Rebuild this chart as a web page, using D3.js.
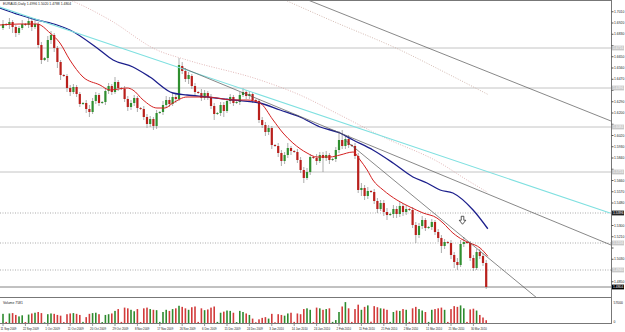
<!DOCTYPE html>
<html lang="en">
<head>
<meta charset="UTF-8">
<title>EURAUD Daily</title>
<script src="https://d3js.org/d3.v7.min.js"></script>
<style>
  body { margin: 0; background: #fff; }
  text { font-family: "Liberation Sans", Arial, sans-serif; }
</style>
</head>
<body>
<svg id="chart" width="625" height="332"></svg>
<script>
// daily bars, 11 Sep 2009 .. 30 Mar 2010 (Sunday bars included)
const opens = [
  1.6876, 1.6908, 1.6900, 1.6924, 1.6884, 1.6836, 1.6876, 1.6908, 1.6900, 1.6932,
  1.6884, 1.6908, 1.6740, 1.6620, 1.6636, 1.6780, 1.6820, 1.6716, 1.6604, 1.6500,
  1.6492, 1.6396, 1.6364, 1.6404, 1.6348, 1.6268, 1.6276, 1.6228, 1.6204, 1.6292,
  1.6340, 1.6276, 1.6284, 1.6372, 1.6412, 1.6364, 1.6444, 1.6396, 1.6388, 1.6308,
  1.6244, 1.6276, 1.6316, 1.6236, 1.6228, 1.6164, 1.6108, 1.6148, 1.6092, 1.6196,
  1.6204, 1.6260, 1.6300, 1.6268, 1.6324, 1.6308, 1.6572, 1.6532, 1.6468, 1.6492,
  1.6412, 1.6364, 1.6356, 1.6316, 1.6356, 1.6324, 1.6252, 1.6188, 1.6196, 1.6260,
  1.6212, 1.6292, 1.6324, 1.6276, 1.6284, 1.6340, 1.6364, 1.6332, 1.6348, 1.6300,
  1.6292, 1.6140, 1.6100, 1.6044, 1.6076, 1.5940, 1.5932, 1.5876, 1.5812, 1.5860,
  1.5916, 1.5892, 1.5884, 1.5820, 1.5740, 1.5676, 1.5724, 1.5844, 1.5836, 1.5812,
  1.5860, 1.5836, 1.5860, 1.5820, 1.5828, 1.5900, 1.5980, 1.5932, 1.5988, 1.5940,
  1.5932, 1.5852, 1.5580, 1.5596, 1.5532, 1.5572, 1.5564, 1.5492, 1.5428, 1.5476,
  1.5404, 1.5380, 1.5388, 1.5428, 1.5388, 1.5452, 1.5404, 1.5428, 1.5420, 1.5300,
  1.5220, 1.5292, 1.5340, 1.5276, 1.5284, 1.5324, 1.5244, 1.5196, 1.5132, 1.5164,
  1.5156, 1.5060, 1.5004, 1.4980, 1.5148, 1.5164, 1.5156, 1.5036, 1.4956, 1.5084,
  1.5052, 1.4996
];
const highs = [
  1.6940, 1.6916, 1.6956, 1.6940, 1.6900, 1.6892, 1.6940, 1.6916, 1.6964, 1.6948,
  1.6940, 1.6924, 1.6764, 1.6644, 1.6812, 1.6852, 1.6836, 1.6732, 1.6620, 1.6508,
  1.6508, 1.6420, 1.6428, 1.6420, 1.6364, 1.6284, 1.6300, 1.6260, 1.6316, 1.6364,
  1.6356, 1.6292, 1.6396, 1.6436, 1.6428, 1.6484, 1.6460, 1.6404, 1.6412, 1.6332,
  1.6300, 1.6340, 1.6332, 1.6244, 1.6252, 1.6188, 1.6172, 1.6164, 1.6220, 1.6212,
  1.6292, 1.6332, 1.6324, 1.6356, 1.6348, 1.6636, 1.6604, 1.6556, 1.6524, 1.6508,
  1.6436, 1.6372, 1.6388, 1.6380, 1.6372, 1.6348, 1.6276, 1.6204, 1.6284, 1.6284,
  1.6316, 1.6348, 1.6340, 1.6292, 1.6364, 1.6396, 1.6380, 1.6372, 1.6364, 1.6308,
  1.6308, 1.6164, 1.6124, 1.6100, 1.6092, 1.5948, 1.5956, 1.5900, 1.5884, 1.5956,
  1.5932, 1.5900, 1.5908, 1.5844, 1.5764, 1.5756, 1.5868, 1.5852, 1.5868, 1.5884,
  1.5884, 1.5892, 1.5876, 1.5836, 1.5924, 1.6052, 1.6060, 1.6012, 1.6020, 1.5948,
  1.5956, 1.5876, 1.5636, 1.5620, 1.5604, 1.5580, 1.5588, 1.5516, 1.5500, 1.5500,
  1.5436, 1.5396, 1.5460, 1.5452, 1.5484, 1.5476, 1.5460, 1.5436, 1.5444, 1.5324,
  1.5316, 1.5372, 1.5356, 1.5292, 1.5348, 1.5340, 1.5268, 1.5220, 1.5188, 1.5172,
  1.5180, 1.5084, 1.5036, 1.5180, 1.5204, 1.5172, 1.5172, 1.5060, 1.5108, 1.5108,
  1.5076, 1.5020
];
const lows = [
  1.6860, 1.6892, 1.6868, 1.6836, 1.6804, 1.6820, 1.6860, 1.6892, 1.6876, 1.6852,
  1.6868, 1.6716, 1.6588, 1.6612, 1.6604, 1.6748, 1.6684, 1.6556, 1.6460, 1.6484,
  1.6364, 1.6332, 1.6348, 1.6324, 1.6244, 1.6260, 1.6196, 1.6164, 1.6188, 1.6268,
  1.6252, 1.6268, 1.6260, 1.6348, 1.6340, 1.6348, 1.6372, 1.6380, 1.6284, 1.6212,
  1.6220, 1.6252, 1.6204, 1.6220, 1.6140, 1.6076, 1.6084, 1.6060, 1.6068, 1.6188,
  1.6180, 1.6236, 1.6244, 1.6252, 1.6276, 1.6292, 1.6508, 1.6444, 1.6428, 1.6388,
  1.6340, 1.6348, 1.6292, 1.6300, 1.6300, 1.6228, 1.6140, 1.6180, 1.6172, 1.6164,
  1.6196, 1.6268, 1.6252, 1.6268, 1.6260, 1.6324, 1.6308, 1.6308, 1.6276, 1.6284,
  1.6116, 1.6076, 1.6012, 1.6020, 1.5908, 1.5924, 1.5844, 1.5772, 1.5788, 1.5836,
  1.5860, 1.5876, 1.5796, 1.5716, 1.5636, 1.5660, 1.5700, 1.5828, 1.5780, 1.5796,
  1.5724, 1.5812, 1.5788, 1.5812, 1.5804, 1.5876, 1.5908, 1.5908, 1.5916, 1.5924,
  1.5828, 1.5556, 1.5532, 1.5500, 1.5508, 1.5556, 1.5468, 1.5396, 1.5412, 1.5372,
  1.5340, 1.5372, 1.5356, 1.5356, 1.5364, 1.5372, 1.5380, 1.5412, 1.5276, 1.5156,
  1.5196, 1.5268, 1.5252, 1.5268, 1.5260, 1.5220, 1.5164, 1.5076, 1.5108, 1.5148,
  1.5028, 1.4956, 1.4940, 1.4964, 1.5124, 1.5148, 1.5012, 1.4932, 1.4940, 1.5028,
  1.4972, 1.4788
];
const closes = [
  1.6908, 1.6900, 1.6924, 1.6884, 1.6836, 1.6876, 1.6908, 1.6900, 1.6932, 1.6884,
  1.6908, 1.6740, 1.6620, 1.6636, 1.6780, 1.6820, 1.6716, 1.6604, 1.6500, 1.6492,
  1.6396, 1.6364, 1.6404, 1.6348, 1.6268, 1.6276, 1.6228, 1.6204, 1.6292, 1.6340,
  1.6276, 1.6284, 1.6372, 1.6412, 1.6364, 1.6444, 1.6396, 1.6388, 1.6308, 1.6244,
  1.6276, 1.6316, 1.6236, 1.6228, 1.6164, 1.6108, 1.6148, 1.6092, 1.6196, 1.6204,
  1.6260, 1.6300, 1.6268, 1.6324, 1.6308, 1.6580, 1.6532, 1.6468, 1.6500, 1.6412,
  1.6364, 1.6356, 1.6316, 1.6356, 1.6324, 1.6252, 1.6188, 1.6196, 1.6260, 1.6212,
  1.6292, 1.6324, 1.6276, 1.6284, 1.6340, 1.6364, 1.6332, 1.6348, 1.6300, 1.6292,
  1.6140, 1.6100, 1.6044, 1.6076, 1.5940, 1.5932, 1.5876, 1.5812, 1.5860, 1.5916,
  1.5892, 1.5884, 1.5820, 1.5740, 1.5676, 1.5724, 1.5844, 1.5836, 1.5812, 1.5860,
  1.5836, 1.5860, 1.5820, 1.5828, 1.5900, 1.5980, 1.5932, 1.5988, 1.5940, 1.5932,
  1.5852, 1.5580, 1.5596, 1.5532, 1.5572, 1.5564, 1.5492, 1.5428, 1.5476, 1.5404,
  1.5380, 1.5388, 1.5428, 1.5388, 1.5452, 1.5404, 1.5428, 1.5420, 1.5300, 1.5220,
  1.5292, 1.5340, 1.5276, 1.5284, 1.5324, 1.5244, 1.5196, 1.5132, 1.5164, 1.5156,
  1.5060, 1.5004, 1.4980, 1.5148, 1.5164, 1.5156, 1.5036, 1.4956, 1.5084, 1.5052,
  1.4996, 1.4804
];
const volumes = [
  25000, 3000, 26000, 27000, 22000, 18000, 21000, 2500, 23000, 26000,
  28000, 30000, 27000, 2000, 24000, 26000, 25000, 22000, 20000, 2500,
  24000, 26000, 27000, 25000, 22000, 3000, 16000, 25000, 27000, 28000,
  24000, 2500, 22000, 24000, 26000, 33000, 38000, 3000, 42000, 40000,
  36000, 32000, 38000, 2500, 40000, 42000, 38000, 36000, 35000, 3000,
  30000, 36000, 33000, 38000, 40000, 47000, 44000, 40000, 36000, 43000,
  45000, 3000, 40000, 35000, 37000, 42000, 45000, 3000, 28000, 31000,
  34000, 33000, 28000, 2500, 33000, 30000, 26000, 22000, 12000, 2000,
  10000, 14000, 16000, 12000, 25000, 2000, 24000, 22000, 20000, 26000,
  28000, 3000, 26000, 24000, 38000, 40000, 36000, 2500, 42000, 40000,
  36000, 38000, 40000, 3000, 8000, 30000, 45000, 57000, 40000, 3000,
  38000, 50000, 36000, 44000, 48000, 3500, 46000, 43000, 40000, 39000,
  36000, 3000, 30000, 34000, 33000, 38000, 36000, 3000, 40000, 44000,
  38000, 34000, 30000, 3000, 36000, 38000, 40000, 42000, 36000, 3000,
  38000, 46000, 44000, 48000, 40000, 3000, 37000, 39000, 34000, 22000,
  15000, 7581
];

// date labels every 7 bars
const dateLabels = ["11 Sep 2009", "22 Sep 2009", "1 Oct 2009", "11 Oct 2009", "20 Oct 2009",
  "29 Oct 2009", "8 Nov 2009", "17 Nov 2009", "26 Nov 2009", "6 Dec 2009", "15 Dec 2009",
  "24 Dec 2009", "3 Jan 2010", "14 Jan 2010", "24 Jan 2010", "2 Feb 2010", "11 Feb 2010",
  "21 Feb 2010", "2 Mar 2010", "11 Mar 2010", "21 Mar 2010", "30 Mar 2010"];
const priceTicks = [1.7010, 1.6920, 1.6830, 1.6740, 1.6650, 1.6560, 1.6470, 1.6380, 1.6290,
  1.6200, 1.6110, 1.6020, 1.5930, 1.5840, 1.5750, 1.5660, 1.5570, 1.5480, 1.5390, 1.5300,
  1.5210, 1.5120, 1.5030, 1.4940, 1.4850];

// moving averages [bar index, price]
const maFast = [[-1, 1.6900], [5.3, 1.6908], [10.6, 1.6908], [14.7, 1.6836], [17.8, 1.6756],
  [20.9, 1.6620], [25, 1.6484], [30.3, 1.6420], [33.4, 1.6380], [38.8, 1.6396], [40.6, 1.6380],
  [43.8, 1.6300], [48.1, 1.6236], [50.6, 1.6236], [53.1, 1.6276], [57.5, 1.6324], [63.8, 1.6324],
  [71.9, 1.6300], [76.3, 1.6300], [80.3, 1.6276], [84.4, 1.6140], [87.5, 1.6036], [90.6, 1.5956],
  [95, 1.5876], [98.1, 1.5844], [102.2, 1.5844], [105.3, 1.5860], [109.4, 1.5884], [111.6, 1.5820],
  [113.8, 1.5740], [115.6, 1.5660], [118.8, 1.5580], [123.1, 1.5500], [127.2, 1.5444],
  [131.3, 1.5396], [135.6, 1.5356], [137.5, 1.5316], [140.6, 1.5236], [143.8, 1.5180],
  [145.9, 1.5156], [149.1, 1.5116], [151.5, 1.5050]];
const maSlow = [[-1, 1.7036], [5.3, 1.6980], [10.6, 1.6940], [16.9, 1.6900], [20.9, 1.6860],
  [29.4, 1.6716], [34.4, 1.6620], [40.6, 1.6564], [45.9, 1.6484], [53.1, 1.6356], [57.5, 1.6340],
  [63.8, 1.6324], [71.9, 1.6300], [80.3, 1.6276], [86.6, 1.6220], [92.8, 1.6164], [99.1, 1.6084],
  [105.3, 1.6036], [109.4, 1.5980], [115.6, 1.5900], [121.9, 1.5796], [128.1, 1.5684],
  [132.5, 1.5636], [136.6, 1.5580], [140.6, 1.5556], [146.9, 1.5420], [151.5, 1.5270]];
const maLong = [[20.9, 1.7100], [23.1, 1.7076], [33.4, 1.6940], [48.1, 1.6700], [57.5, 1.6620],
  [80.3, 1.6460], [92.8, 1.6340], [105.3, 1.6180], [118.8, 1.6004], [136.6, 1.5796],
  [145, 1.5660], [151.5, 1.5560]];
const maLongUpper = [[88.1, 1.7100], [102.2, 1.6940], [124.1, 1.6700], [139.7, 1.6500], [151.5, 1.6345]];

// drawn objects
const cyanLine = [[-1, 1.7044], [189.7, 1.5396]];
const trendLines = [
  [[95.3, 1.7100], [190, 1.6132]],
  [[56.25, 1.6556], [190, 1.5140]],
  [[106.9, 1.5980], [170, 1.4650]]
];
const solidLevels = [1.6716, 1.6396, 1.6084, 1.5724];
const alertLevels = [1.5396];
const dottedLevels = [1.5156, 1.4940];
const arrowMark = [143.6, 1.5330];

const svg = d3.select("#chart");
const axisX = 611, mainBottom = 297, volBottom = 323;
const fs = 3.4;

const x = d3.scaleLinear().domain([-1, 190]).range([-0.2, 611]);
const y = d3.scaleLinear().domain([1.4724, 1.7100]).range([mainBottom, 0]);
const yVol = d3.scaleLinear().domain([0, 57267]).range([volBottom, 302]);
const fmt = d3.format(".4f");

const bars = opens.map((o, i) => ({ i, o, h: highs[i], l: lows[i], c: closes[i], v: volumes[i] }));
const last = bars[bars.length - 1];

svg.append("rect").attr("width", 625).attr("height", 332).attr("fill", "#fff");

svg.append("defs").append("clipPath").attr("id", "mainClip")
  .append("rect").attr("x", 0).attr("y", 0).attr("width", axisX).attr("height", mainBottom);

const main = svg.append("g").attr("clip-path", "url(#mainClip)");

// horizontal levels
main.selectAll("line.solid").data(solidLevels).join("line")
  .attr("x1", 0).attr("x2", axisX).attr("y1", d => y(d)).attr("y2", d => y(d))
  .attr("stroke", "#c4c4c4").attr("stroke-width", 1);
main.selectAll("line.dot").data(alertLevels.concat(dottedLevels)).join("line")
  .attr("x1", 0).attr("x2", axisX).attr("y1", d => y(d)).attr("y2", d => y(d))
  .attr("stroke", "#888").attr("stroke-width", 0.7).attr("stroke-dasharray", "1,1.5");
main.append("line")
  .attr("x1", 0).attr("x2", axisX).attr("y1", y(last.c)).attr("y2", y(last.c))
  .attr("stroke", "#666").attr("stroke-width", 0.8);

// candles
const candle = main.selectAll("g.bar").data(bars).join("g");
candle.append("line")
  .attr("x1", d => x(d.i)).attr("x2", d => x(d.i))
  .attr("y1", d => y(d.h)).attr("y2", d => y(d.l))
  .attr("stroke", "#8a8a8a").attr("stroke-width", 0.7);
candle.append("rect")
  .attr("x", d => x(d.i) - 1.1).attr("width", 2.2)
  .attr("y", d => y(Math.max(d.o, d.c)))
  .attr("height", d => Math.max(0.8, Math.abs(y(d.o) - y(d.c))))
  .attr("fill", d => d.c >= d.o ? "#2f8f2f" : "#b9201c");

const line = d3.line().x(d => x(d[0])).y(d => y(d[1])).curve(d3.curveMonotoneX);

main.append("path").datum(maLong).attr("d", line).attr("fill", "none")
  .attr("stroke", "#d9a5a5").attr("stroke-width", 0.8).attr("stroke-dasharray", "1,1.5");
main.append("path").datum(maLongUpper).attr("d", line).attr("fill", "none")
  .attr("stroke", "#c9a9a0").attr("stroke-width", 0.8).attr("stroke-dasharray", "1,1.5");
main.append("path").datum(maSlow).attr("d", line).attr("fill", "none")
  .attr("stroke", "#1c1f8c").attr("stroke-width", 1.3);
main.append("path").datum(maFast).attr("d", line).attr("fill", "none")
  .attr("stroke", "#d42020").attr("stroke-width", 1);

const straight = d3.line().x(d => x(d[0])).y(d => y(d[1]));
main.append("path").datum(cyanLine).attr("d", straight)
  .attr("stroke", "#7fe0e0").attr("stroke-width", 1.1).attr("fill", "none");
main.selectAll("path.trend").data(trendLines).join("path")
  .attr("d", straight).attr("stroke", "#555").attr("stroke-width", 0.7).attr("fill", "none");

// hollow down arrow
const ax = x(arrowMark[0]), ay = y(arrowMark[1]);
svg.append("path")
  .attr("d", `M${ax - 1.3},${ay - 5} h2.6 v4 h2 l-3.3,4 l-3.3,-4 h2 z`)
  .attr("fill", "#fff").attr("stroke", "#111").attr("stroke-width", 0.7);

// volume
svg.selectAll("rect.vol").data(bars).join("rect")
  .attr("x", d => x(d.i) - 0.8).attr("width", 1.6)
  .attr("y", d => yVol(d.v)).attr("height", d => volBottom - yVol(d.v))
  .attr("fill", d => d.c >= d.o ? "#2e8b2e" : "#d23b3b");

// frame
const frame = svg.append("g").attr("stroke", "#777").attr("stroke-width", 1).attr("fill", "none");
frame.append("line").attr("x1", 0).attr("x2", axisX).attr("y1", 0.5).attr("y2", 0.5);
frame.append("line").attr("x1", 0).attr("x2", axisX).attr("y1", mainBottom + 0.5).attr("y2", mainBottom + 0.5);
frame.append("line").attr("x1", 0).attr("x2", axisX).attr("y1", volBottom + 0.5).attr("y2", volBottom + 0.5);
frame.append("line").attr("x1", axisX + 0.5).attr("x2", axisX + 0.5).attr("y1", 0).attr("y2", volBottom + 1);

// price axis; ticks hidden under a level tag are skipped
const tagged = solidLevels.concat(dottedLevels, alertLevels, [last.c]);
const shownTicks = priceTicks.filter(t => tagged.every(p => Math.abs(y(t) - y(p)) > 5));
const yAxis = svg.append("g").attr("transform", `translate(${axisX + 0.5},0)`)
  .call(d3.axisRight(y).tickValues(priceTicks).tickSize(2).tickFormat(fmt));
yAxis.select(".domain").remove();
yAxis.selectAll("line").attr("stroke", "#555");
yAxis.selectAll(".tick").filter(d => !shownTicks.includes(d)).select("text").remove();
yAxis.selectAll("text").attr("x", 2.5).attr("font-size", fs).attr("fill", "#222");

function levelTag(p, bg, fg) {
  svg.append("rect").attr("x", axisX + 1).attr("y", y(p) - 2.4)
    .attr("width", 12).attr("height", 4.8).attr("fill", bg);
  svg.append("text").attr("x", axisX + 2).attr("y", y(p) + 1.2)
    .attr("font-size", fs).attr("fill", fg).text(fmt(p));
}
solidLevels.forEach(p => levelTag(p, "#c8c8c8", "#fff"));
dottedLevels.forEach(p => levelTag(p, "#c8c8c8", "#fff"));
alertLevels.forEach(p => levelTag(p, "#222", "#fff"));
levelTag(last.c, "#000", "#fff");

// volume axis
svg.append("text").attr("x", axisX + 2.5).attr("y", 303.5).attr("font-size", fs).attr("fill", "#222")
  .text(d3.max(volumes));
svg.append("text").attr("x", axisX + 2.5).attr("y", volBottom).attr("font-size", fs).attr("fill", "#222")
  .text("0");
svg.append("text").attr("x", 3).attr("y", 303.5).attr("font-size", fs).attr("fill", "#222")
  .text("Volume " + last.v);

// date axis
const dates = svg.append("g");
dateLabels.forEach((lab, k) => {
  const xi = x(k * 7);
  dates.append("line").attr("x1", xi).attr("x2", xi).attr("y1", volBottom + 1).attr("y2", volBottom + 3)
    .attr("stroke", "#555").attr("stroke-width", 0.6);
  dates.append("text").attr("x", Math.max(0.5, xi - 2.5)).attr("y", 330).attr("font-size", fs)
    .attr("fill", "#222").attr("textLength", lab.length * 1.45).attr("lengthAdjust", "spacingAndGlyphs")
    .text(lab);
});

// title
svg.append("text").attr("x", 3).attr("y", 5).attr("font-size", fs).attr("fill", "#222")
  .text(`EURAUD,Daily  ${fmt(last.o)} ${fmt(last.h)} ${fmt(last.l)} ${fmt(last.c)}`);
</script>
</body>
</html>
